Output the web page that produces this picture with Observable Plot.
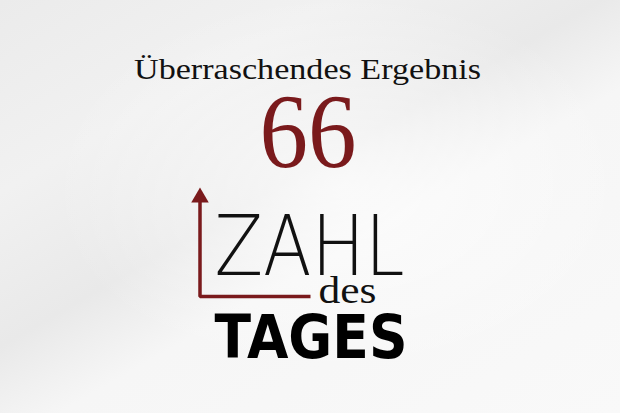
<!DOCTYPE html>
<html>
<head>
<meta charset="utf-8">
<script src="https://cdn.jsdelivr.net/npm/d3@7"></script>
<script src="https://cdn.jsdelivr.net/npm/@observablehq/plot@0.6"></script>
<style>
  html, body { margin: 0; padding: 0; }
  body { width: 620px; height: 413px; overflow: hidden; }
</style>
</head>
<body>
<div id="chart"></div>
<script>
// ---- content ----
const titleText = ["Überraschendes Ergebnis"];
const values = [66];
const logoWords = ["ZAHL", "des", "TAGES"];

// ---- layout (pixel space) ----
const W = 620, H = 413;
const red = "#7a1a1c";
const serif = "Liberation Serif";

const titleRows = titleText.map(t => ({t, x: 307, y: 78}));
const valueRows = values.map(v => ({t: String(v), x: 307.5, y: 166}));
const logoRows = [
  {t: logoWords[0], x: 214, y: 274},
  {t: logoWords[1], x: 318, y: 302},
  {t: logoWords[2], x: 214, y: 357}
];
const axisPath = [
  {x: 310, y: 296},
  {x: 199.5, y: 296},
  {x: 199.5, y: 199}
];

const chart = Plot.plot({
  width: W,
  height: H,
  margin: 0,
  x: {domain: [0, W], range: [0, W], axis: null},
  y: {domain: [0, H], range: [0, H], axis: null},
  style: {
    background: "radial-gradient(ellipse at 55% 45%, rgba(255,255,255,0.7) 0%, rgba(255,255,255,0) 60%), linear-gradient(150deg, #ebebeb 0%, #f1f1f1 25%, #e9e9e9 45%, #f6f6f6 58%, #f9f9f9 100%)",
    overflow: "visible"
  },
  marks: [
    Plot.line(axisPath, {x: "x", y: "y", stroke: red, strokeWidth: 3.5, strokeLinejoin: "miter", strokeLinecap: "butt"}),
    Plot.dot([axisPath[2]], {x: "x", y: d => d.y - 2, symbol: "triangle", r: 6.5, fill: red, stroke: "none"}),
    Plot.text(titleRows, {x: "x", y: "y", text: "t", lineAnchor: "bottom", textAnchor: "middle",
      fontFamily: serif, fontSize: 29, fill: "#111", className: "ttl"}),
    Plot.text(valueRows, {x: "x", y: "y", text: "t", lineAnchor: "bottom", textAnchor: "middle",
      fontFamily: serif, fontSize: 106, fill: red, className: "val"}),
    Plot.text([logoRows[0]], {x: "x", y: "y", text: "t", lineAnchor: "bottom", textAnchor: "start",
      fontFamily: "DejaVu Sans", fontWeight: 200, fontSize: 84, fill: "#111", className: "zahl"}),
    Plot.text([logoRows[1]], {x: "x", y: "y", text: "t", lineAnchor: "bottom", textAnchor: "start",
      fontFamily: serif, fontSize: 38, fill: "#111", className: "des"}),
    Plot.text([logoRows[2]], {x: "x", y: "y", text: "t", lineAnchor: "bottom", textAnchor: "start",
      fontFamily: "DejaVu Sans", fontWeight: "bold", fontSize: 60, fill: "#000", className: "tages"})
  ]
});
document.getElementById("chart").appendChild(chart);

// fit widths to the reference lettering
const fit = {ttl: 347, val: 97, zahl: 190, des: 58, tages: 193};
for (const [cls, len] of Object.entries(fit)) {
  chart.querySelectorAll("g." + cls + " text").forEach(t => {
    t.setAttribute("textLength", len);
    t.setAttribute("lengthAdjust", "spacingAndGlyphs");
  });
}
</script>
</body>
</html>
